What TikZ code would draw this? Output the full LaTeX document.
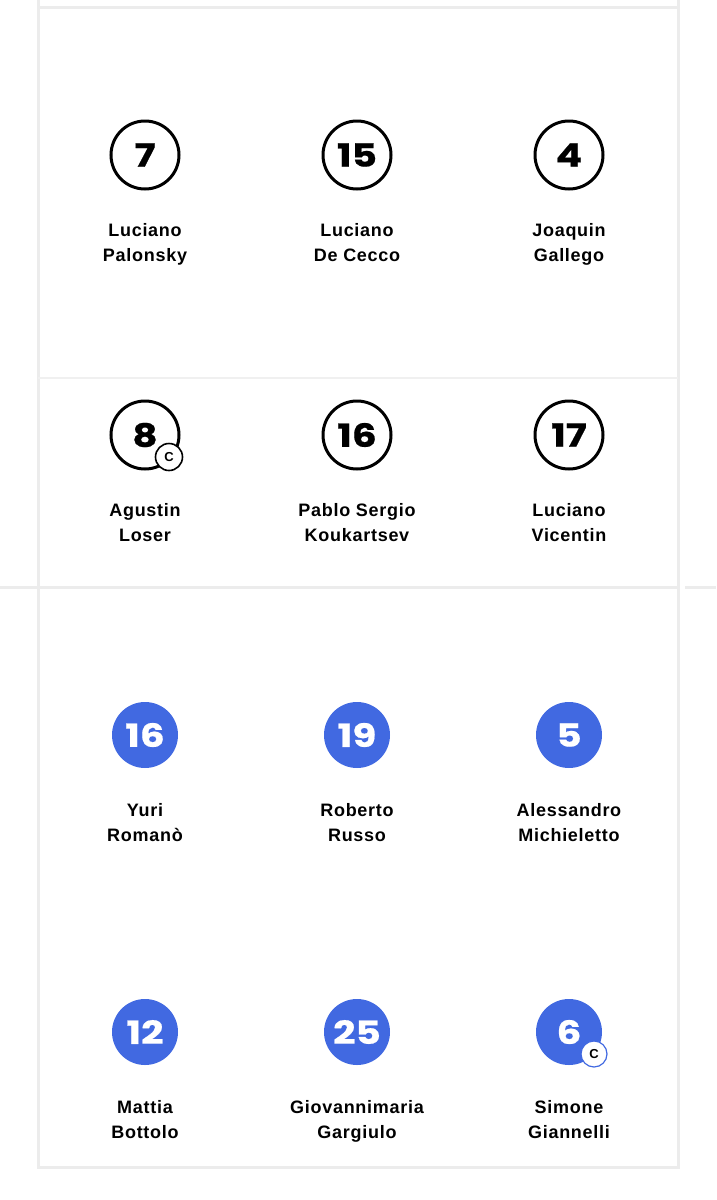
\documentclass[tikz,border=0pt]{standalone}
\usepackage{xcolor}
\usepackage{fontspec}
\usepackage{tikz}
\usetikzlibrary{positioning}
\setmainfont{Liberation Sans}
\newfontfamily\numfont[FakeStretch=1.22, FakeBold=0.6]{Poppins}
\newfontfamily\namefont[LetterSpace=4]{Liberation Sans}
\definecolor{framegrey}{HTML}{ECECEC}
\definecolor{rulegrey}{HTML}{F0F0F0}
\definecolor{teamblue}{HTML}{4169E1}
\tikzset{
  ring/.style={circle, draw=black, line width=3pt, minimum size=68pt, inner sep=0pt, font=\numfont\bfseries\fontsize{32}{32}\selectfont},
  disc/.style={circle, fill=teamblue, text=white, minimum size=66pt, inner sep=0pt, font=\numfont\bfseries\fontsize{32}{32}\selectfont},
  badge/.style={circle, fill=white, draw=black, line width=1.6pt, minimum size=27pt, inner sep=0pt, font=\fontsize{13}{13}\selectfont\bfseries},
  bluebadge/.style={badge, draw=teamblue, line width=1.2pt, minimum size=26pt},
  plname/.style={align=center, font=\namefont\bfseries\fontsize{18}{25}\selectfont, execute at begin node=\strut, below=50pt of #1.center, anchor=center},
  frame/.style={framegrey, line width=3pt},
}
\begin{document}
\begin{tikzpicture}[x=1pt, y=-1pt]
\useasboundingbox (0,0) rectangle (716,1200);
% card frames
\draw[frame] (38,0) -- (38,1167) -- (678,1167) -- (678,0);
\draw[frame] (38,7) -- (678,7);
\draw[frame] (0,587) -- (678,587);
\draw[frame] (685,587) -- (716,587);
\draw[rulegrey, line width=1.2pt] (38,378) -- (678,378);
% argentina
\node[ring] (p7) at (145,155) {7};
\node[ring] (p15) at (357,155) {15};
\node[ring] (p4) at (569,155) {4};
\node[ring] (p8) at (145,435) {8};
\node[ring] (p16a) at (357,435) {16};
\node[ring] (p17) at (569,435) {17};
\node[badge] (c8) at (169,457) {C};
\node[plname=p7, yshift=-41.5pt] (n7) {Luciano\\Palonsky};
\node[plname=p15, yshift=-41.5pt] (n15) {Luciano\\De Cecco};
\node[plname=p4, yshift=-41.5pt] (n4) {Joaquin\\Gallego};
\node[plname=p8, yshift=-41.5pt] (n8) {Agustin\\Loser};
\node[plname=p16a, yshift=-41.5pt] (n16a) {Pablo Sergio\\Koukartsev};
\node[plname=p17, yshift=-41.5pt] (n17) {Luciano\\Vicentin};
% italy
\node[disc] (p16) at (145,735) {16};
\node[disc] (p19) at (357,735) {19};
\node[disc] (p5) at (569,735) {5};
\node[disc] (p12) at (145,1032) {12};
\node[disc] (p25) at (357,1032) {25};
\node[disc] (p6) at (569,1032) {6};
\node[bluebadge] (c6) at (594,1054) {C};
\node[plname=p16, yshift=-41.5pt] (n16) {Yuri\\Romanò};
\node[plname=p19, yshift=-41.5pt] (n19) {Roberto\\Russo};
\node[plname=p5, yshift=-41.5pt] (n5) {Alessandro\\Michieletto};
\node[plname=p12, yshift=-41.5pt] (n12) {Mattia\\Bottolo};
\node[plname=p25, yshift=-41.5pt] (n25) {Giovannimaria\\Gargiulo};
\node[plname=p6, yshift=-41.5pt] (n6) {Simone\\Giannelli};
\end{tikzpicture}
\end{document}
